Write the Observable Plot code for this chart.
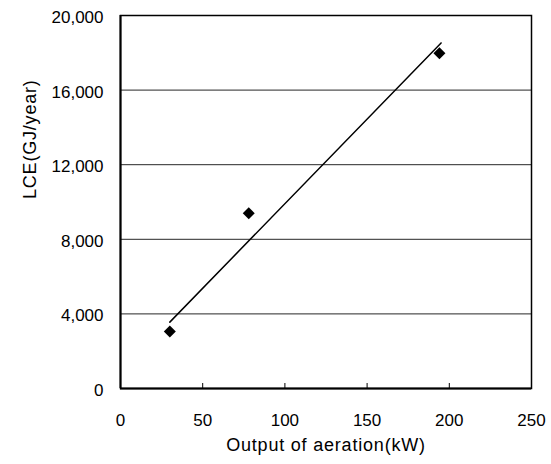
<!DOCTYPE html>
<html>
<head>
<meta charset="utf-8">
<script src="https://cdn.jsdelivr.net/npm/d3@7"></script>
<script src="https://cdn.jsdelivr.net/npm/@observablehq/plot@0.6"></script>
<style>
  html, body { margin: 0; padding: 0; background: #fff; }
  #chart svg g[aria-label="text"] text { letter-spacing: 0.8px; }
</style>
</head>
<body>
<div id="chart"></div>
<script>
// Data
const outputKW = [30, 78, 194];
const lceGJ = [3050, 9400, 17980];
const trendX = [30, 195];
const trendY = [3560, 18530];
const xTicks = [0, 50, 100, 150, 200, 250];
const yTicks = [0, 4000, 8000, 12000, 16000, 20000];
const xLabel = "Output of aeration(kW)";
const yLabel = "LCE(GJ/year)";

const points = outputKW.map((x, i) => ({x, y: lceGJ[i]}));
const trend = trendX.map((x, i) => ({x, y: trendY[i]}));
const innerX = xTicks.slice(1, -1);
const innerY = yTicks.slice(1, -1);

const chart = Plot.plot({
  width: 551,
  height: 464,
  marginLeft: 120,
  marginRight: 20,
  marginTop: 15,
  marginBottom: 76,
  style: {fontFamily: "'Liberation Sans', Arial, sans-serif", fontSize: "17px", color: "#000", background: "#fff"},
  x: {domain: [0, 250]},
  y: {domain: [0, 20000]},
  marks: [
    Plot.gridY(innerY, {stroke: "#000", strokeOpacity: 0.85, strokeWidth: 1}),
    Plot.axisY({ticks: yTicks, tickSize: 0, tickPadding: 17, tickFormat: d3.format(",d"), fontSize: 17, dy: 2, label: null}),
    Plot.axisX({ticks: xTicks, tickSize: 0, tickPadding: 25, tickFormat: d3.format("d"), fontSize: 17, label: null}),
    Plot.axisX({ticks: innerX, tickSize: -5, text: null, label: null, strokeWidth: 1}),
    Plot.frame({stroke: "#000", strokeWidth: 1.5}),
    Plot.ruleX([0], {stroke: "#000", strokeWidth: 2}),
    Plot.ruleY([0], {stroke: "#000", strokeWidth: 2}),
    Plot.line(trend, {x: "x", y: "y", stroke: "#000", strokeWidth: 1.5}),
    Plot.dot(points, {x: "x", y: "y", symbol: "diamond2", r: 5.4, fill: "#000", stroke: "none"}),
    Plot.text([xLabel], {frameAnchor: "bottom", dy: 62, fontSize: 18, fill: "#000"}),
    Plot.text([yLabel], {frameAnchor: "left", rotate: -90, dx: -90, dy: -3, fontSize: 18, fill: "#000"})
  ]
});
document.getElementById("chart").appendChild(chart);
</script>
</body>
</html>
